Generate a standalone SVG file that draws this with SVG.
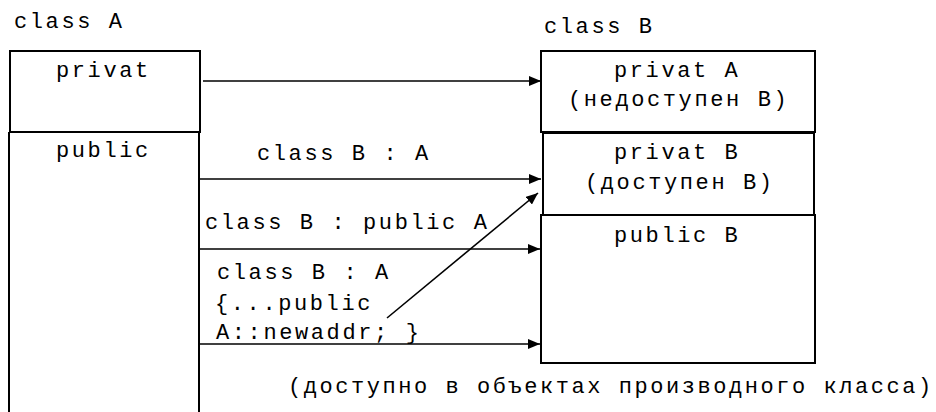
<svg xmlns="http://www.w3.org/2000/svg" width="936" height="412" viewBox="0 0 936 412">
  <style>
    text { font-family: "Liberation Mono", "DejaVu Sans Mono", monospace; font-size: 22px; letter-spacing: 2.6px; fill: #000; }
    .note { letter-spacing: 2.55px; }
    .box { fill: #fff; stroke: #000; stroke-width: 2; }
    .edge { fill: none; stroke: #000; stroke-width: 1.6; }
    .wire { stroke: #000; stroke-width: 2; }
  </style>
  <defs>
    <marker id="arrow" markerUnits="userSpaceOnUse" markerWidth="12" markerHeight="10" refX="12" refY="5" orient="auto">
      <path d="M0,0 L12,5 L0,10 Z" fill="#000"/>
    </marker>
  </defs>
  <rect width="936" height="412" fill="#fff"/>

  <!-- base class A -->
  <g id="classA">
    <text x="14" y="28">class A</text>
    <g id="A-private">
      <rect class="box" x="10" y="51" width="190" height="81"/>
      <text x="56" y="77">privat</text>
    </g>
    <g id="A-public">
      <line class="wire" x1="9" y1="132" x2="200" y2="132"/>
      <line class="wire" x1="9" y1="132" x2="9" y2="412"/>
      <line class="wire" x1="199" y1="132" x2="199" y2="412"/>
      <text x="56" y="157">public</text>
    </g>
  </g>

  <!-- derived class B -->
  <g id="classB">
    <text x="544" y="33">class B</text>
    <g id="B-privateA">
      <rect class="box" x="541" y="51" width="274" height="81"/>
      <text x="614" y="77">privat A</text>
      <text x="568" y="106">(недоступен B)</text>
    </g>
    <g id="B-privateB">
      <rect class="box" x="543" y="133" width="271" height="82"/>
      <text x="614" y="159">privat B</text>
      <text x="585" y="189">(доступен B)</text>
    </g>
    <g id="B-public">
      <rect class="box" x="541" y="215" width="274" height="148"/>
      <text x="614" y="242">public B</text>
    </g>
  </g>

  <!-- inheritance connectors -->
  <g id="connectors">
    <line class="edge" x1="203" y1="81" x2="541" y2="81" marker-end="url(#arrow)"/>
    <line class="edge" x1="199" y1="179" x2="541" y2="179" marker-end="url(#arrow)"/>
    <line class="edge" x1="198" y1="249" x2="540" y2="249" marker-end="url(#arrow)"/>
    <line class="edge" x1="198" y1="344" x2="540" y2="344" marker-end="url(#arrow)"/>
    <line class="edge" x1="387" y1="318" x2="538" y2="193" marker-end="url(#arrow)"/>
  </g>

  <!-- connector labels -->
  <g id="labels">
    <text x="257" y="160">class B : A</text>
    <text x="205" y="229">class B : public A</text>
    <text x="217" y="279">class B : A</text>
    <text x="215" y="310">{...public</text>
    <text x="216" y="339">A::newaddr; }</text>
    <text class="note" x="288" y="393">(доступно в объектах производного класса)</text>
  </g>
</svg>
